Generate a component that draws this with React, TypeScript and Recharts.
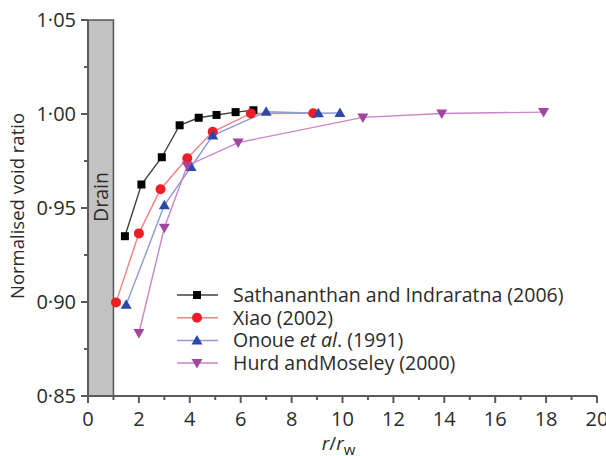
import { LineChart, Line, XAxis, YAxis, ReferenceArea } from 'recharts'

// series values
const sathX = [1.45, 2.1, 2.9, 3.6, 4.35, 5.05, 5.8, 6.5]
const sathY = [0.935, 0.9625, 0.977, 0.994, 0.998, 0.9995, 1.001, 1.002]
const xiaoX = [1.1, 2.0, 2.85, 3.9, 4.9, 6.4, 8.85]
const xiaoY = [0.8998, 0.9365, 0.96, 0.9765, 0.9905, 1.0003, 1.0004]
const onoueX = [1.5, 3.0, 4.05, 4.9, 7.0, 9.05, 9.9]
const onoueY = [0.8985, 0.9515, 0.9718, 0.9885, 1.0012, 1.0004, 1.0005]
const hurdX = [2.0, 3.0, 3.9, 5.9, 10.8, 13.9, 17.9]
const hurdY = [0.8835, 0.9395, 0.9725, 0.9848, 0.9982, 1.0003, 1.001]

const xMajor = [0, 2, 4, 6, 8, 10, 12, 14, 16, 18, 20]
const xTicks = [0, 1, 2, 3, 4, 5, 6, 7, 8, 9, 10, 11, 12, 13, 14, 15, 16, 17, 18, 19, 20]
const yMajor = [0.85, 0.9, 0.95, 1.0, 1.05]
const yTicks = [0.85, 0.875, 0.9, 0.925, 0.95, 0.975, 1.0, 1.025, 1.05]

const FONT = '"Open Sans", sans-serif'
const TEXT = '#2b2b2b'
const AXIS = '#5a5a5a'

const zip = (xs: number[], ys: number[]) => xs.map((x, i) => ({ x, y: ys[i] }))

const series = [
  { name: 'Sathananthan and Indraratna (2006)', data: zip(sathX, sathY), marker: '#000000', line: '#404040', shape: 'square' },
  { name: 'Xiao (2002)', data: zip(xiaoX, xiaoY), marker: '#ec1f26', line: '#f48080', shape: 'circle' },
  { name: 'Onoue et al. (1991)', data: zip(onoueX, onoueY), marker: '#2c48a8', line: '#8d9bd6', shape: 'up' },
  { name: 'Hurd andMoseley (2000)', data: zip(hurdX, hurdY), marker: '#a346a0', line: '#c985c6', shape: 'down' },
]

function Marker({ cx, cy, shape, color }: { cx: number; cy: number; shape: string; color: string }) {
  if (shape === 'square') return <rect x={cx - 4} y={cy - 4} width={8} height={8} fill={color} />
  if (shape === 'circle') return <circle cx={cx} cy={cy} r={5} fill={color} />
  if (shape === 'up') return <polygon points={`${cx},${cy - 5.5} ${cx + 5.5},${cy + 4} ${cx - 5.5},${cy + 4}`} fill={color} />
  return <polygon points={`${cx - 5.5},${cy - 4} ${cx + 5.5},${cy - 4} ${cx},${cy + 5.5}`} fill={color} />
}

function fmt(v: number) {
  return v.toFixed(2).replace('.', '·')
}

function XTick({ x, y, payload }: any) {
  const major = xMajor.includes(payload.value)
  return (
    <g>
      <line x1={x} x2={x} y1={y} y2={y + (major ? 7 : 4)} stroke={AXIS} strokeWidth={2} />
      {major && (
        <text x={x} y={y + 30} textAnchor="middle" fontFamily={FONT} fontSize={20} fill={TEXT}>
          {payload.value}
        </text>
      )}
    </g>
  )
}

function YTick({ x, y, payload }: any) {
  const major = yMajor.some((m) => Math.abs(m - payload.value) < 1e-6)
  return (
    <g>
      <line x1={x} x2={x - (major ? 7 : 4)} y1={y} y2={y} stroke={AXIS} strokeWidth={2} />
      {major && (
        <text x={x - 12} y={y + 7} textAnchor="end" fontFamily={FONT} fontSize={20} fill={TEXT}>
          {fmt(payload.value)}
        </text>
      )}
    </g>
  )
}

function LegendBox() {
  return (
    <svg width={400} height={96} style={{ position: 'absolute', left: 175, top: 284 }}>
      {series.map((s, i) => {
        const cy = 11 + i * 22.7
        return (
          <g key={s.name}>
            <line x1={2} x2={43} y1={cy} y2={cy} stroke={s.line} strokeWidth={1.5} />
            <Marker cx={22} cy={cy} shape={s.shape} color={s.marker} />
            <text x={58} y={cy + 7} fontFamily={FONT} fontSize={19.5} fill={TEXT}>
              {i === 2 ? (
                <>
                  Onoue <tspan fontStyle="italic">et al</tspan>. (1991)
                </>
              ) : (
                s.name
              )}
            </text>
          </g>
        )
      })}
    </svg>
  )
}

export default function App() {
  return (
    <div style={{ position: 'absolute', left: 0, top: 0, width: 606, height: 456, background: '#fff' }}>
      <LineChart width={606} height={456} margin={{ top: 20, right: 9, bottom: 0, left: 0 }}>
        <ReferenceArea
          x1={0}
          x2={1}
          y1={0.85}
          y2={1.05}
          fill="#c2c2c2"
          fillOpacity={1}
          stroke="#555"
          strokeWidth={1.5}
          label={(p: any) => {
            const vb = p.viewBox
            const cx = vb.x + vb.width / 2 + 7
            const cy = 197
            return (
              <text x={cx} y={cy} transform={`rotate(-90 ${cx} ${cy})`} textAnchor="middle" fontFamily={FONT} fontSize={19.5} fill={TEXT}>
                Drain
              </text>
            )
          }}
        />
        <XAxis
          type="number"
          dataKey="x"
          domain={[0, 20]}
          ticks={xTicks}
          interval={0}
          allowDataOverflow
          height={60}
          tickSize={0}
          tickMargin={0}
          tickLine={false}
          stroke={AXIS}
          strokeWidth={2}
          tick={<XTick />}
          label={(p: any) => {
            const vb = p.viewBox
            const cx = vb.x + vb.width / 2 - 4
            return (
              <text x={cx} y={vb.y + 54} textAnchor="middle" fontFamily={FONT} fontSize={19} fill={TEXT}>
                <tspan fontStyle="italic">r</tspan>/<tspan fontStyle="italic">r</tspan>
                <tspan fontSize={15} dy={5}>w</tspan>
              </text>
            )
          }}
        />
        <YAxis
          type="number"
          domain={[0.85, 1.05]}
          ticks={yTicks}
          interval={0}
          allowDataOverflow
          width={88}
          tickSize={0}
          tickMargin={0}
          tickLine={false}
          stroke={AXIS}
          strokeWidth={2}
          tick={<YTick />}
          label={() => (
            <text x={24} y={206} transform="rotate(-90 24 206)" textAnchor="middle" fontFamily={FONT} fontSize={18.5} fill={TEXT}>
              Normalised void ratio
            </text>
          )}
        />
        {series.map((s) => (
          <Line
            key={s.name}
            data={s.data}
            dataKey="y"
            name={s.name}
            type="linear"
            stroke={s.line}
            strokeWidth={1.4}
            isAnimationActive={false}
            dot={(p: any) => <Marker key={`${s.name}-${p.index}`} cx={p.cx} cy={p.cy} shape={s.shape} color={s.marker} />}
            activeDot={false}
          />
        ))}
      </LineChart>
      <LegendBox />
    </div>
  )
}
